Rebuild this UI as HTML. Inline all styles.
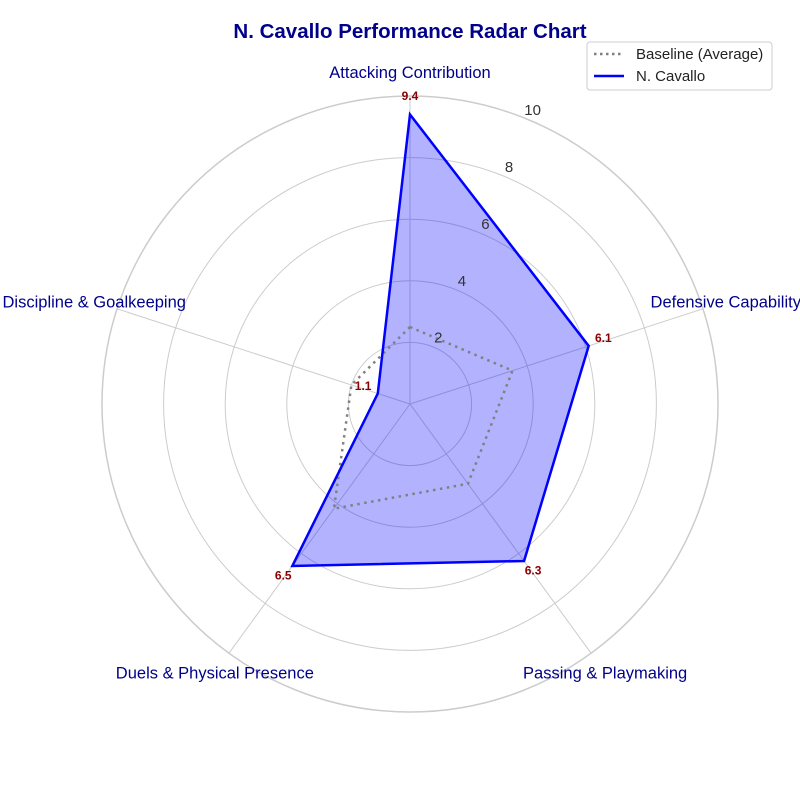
<!DOCTYPE html>
<html><head><meta charset="utf-8"><style>
body{margin:0;background:#fff;font-family:"Liberation Sans",Arial,sans-serif}
svg text{font-family:"Liberation Sans",Arial,sans-serif}
</style></head><body>
<svg id="chart" width="800" height="800" viewBox="0 0 800 800">
<text x="410" y="38" text-anchor="middle" font-size="20.5" font-weight="bold" fill="#00008B">N. Cavallo Performance Radar Chart</text>
<g id="grid"></g><g id="series"></g><g id="labels"></g>
<g>
<rect x="587" y="42" width="185" height="48" fill="#fff" stroke="#ccc" rx="3"/>
<line x1="594" y1="54" x2="624" y2="54" stroke="gray" stroke-width="2.5" stroke-dasharray="2.5,3.5"/>
<text x="636" y="59" font-size="15" fill="#222">Baseline (Average)</text>
<line x1="594" y1="76" x2="624" y2="76" stroke="blue" stroke-width="2.5"/>
<text x="636" y="81" font-size="15" fill="#222">N. Cavallo</text>
</g>
</svg>
<script>
const categories=["Attacking Contribution","Defensive Capability","Passing & Playmaking","Duels & Physical Presence","Discipline & Goalkeeping"];
const playerValues=[9.4,6.1,6.3,6.5,1.1];
const baselineValues=[2.5,3.5,3.2,4.2,2.0];
const tickValues=[2,4,6,8,10];
const NS="http://www.w3.org/2000/svg";
const cx=410,cy=404,R=308,maxV=10;
function ang(i){return -Math.PI/2+i*2*Math.PI/categories.length;}
function pt(i,v){const a=ang(i),r=v/maxV*R;return [cx+r*Math.cos(a),cy+r*Math.sin(a)];}
function mk(tag,attrs,parent){const e=document.createElementNS(NS,tag);for(const k in attrs)e.setAttribute(k,attrs[k]);parent.appendChild(e);return e;}
const grid=document.getElementById('grid'),series=document.getElementById('series'),labels=document.getElementById('labels');
tickValues.forEach(t=>{
 const c=mk('circle',{cx:cx,cy:cy,r:t/maxV*R,fill:'none',stroke:'#ccc','stroke-width':t===maxV?1.5:1},grid);
 
 
});
categories.forEach((c,i)=>{
 const p=pt(i,maxV);
 const l=mk('line',{x1:cx,y1:cy,x2:p[0],y2:p[1],stroke:'#ccc','stroke-width':1},grid);
 
 
 const a=ang(i),r=332;
 const t=mk('text',{x:cx+r*Math.cos(a),y:cy+r*Math.sin(a)+6,'text-anchor':'middle','font-size':16.5,fill:'#00008B'},labels);
 t.textContent=c;
 
 
});
function poly(vals){return vals.map((v,i)=>pt(i,v).join(',')).join(' ');}
const fill=mk('polygon',{points:poly(playerValues),fill:'rgba(0,0,255,0.3)',stroke:'none'},series);


const base=mk('polygon',{points:poly(baselineValues),fill:'none',stroke:'gray','stroke-width':2.5,'stroke-dasharray':'2.5,4.5'},series);


const pl=mk('polygon',{points:poly(playerValues),fill:'none',stroke:'blue','stroke-width':2.5,'stroke-linejoin':'miter'},series);


tickValues.forEach(t=>{
 const a=-Math.PI/2+Math.PI/8,r=(t+0.4)/maxV*R;
 const e=mk('text',{x:cx+r*Math.cos(a),y:cy+r*Math.sin(a)+7,'text-anchor':'middle','font-size':15,fill:'#333'},labels);
 e.textContent=t;
 
 
});
playerValues.forEach((v,i)=>{
 const p=pt(i,v+0.5);
 const e=mk('text',{x:p[0],y:p[1]+1,'text-anchor':'middle','font-size':12,'font-weight':'bold',fill:'#8B0000'},labels);
 e.textContent=v.toFixed(1);
 
 
});
</script>
</body></html>
